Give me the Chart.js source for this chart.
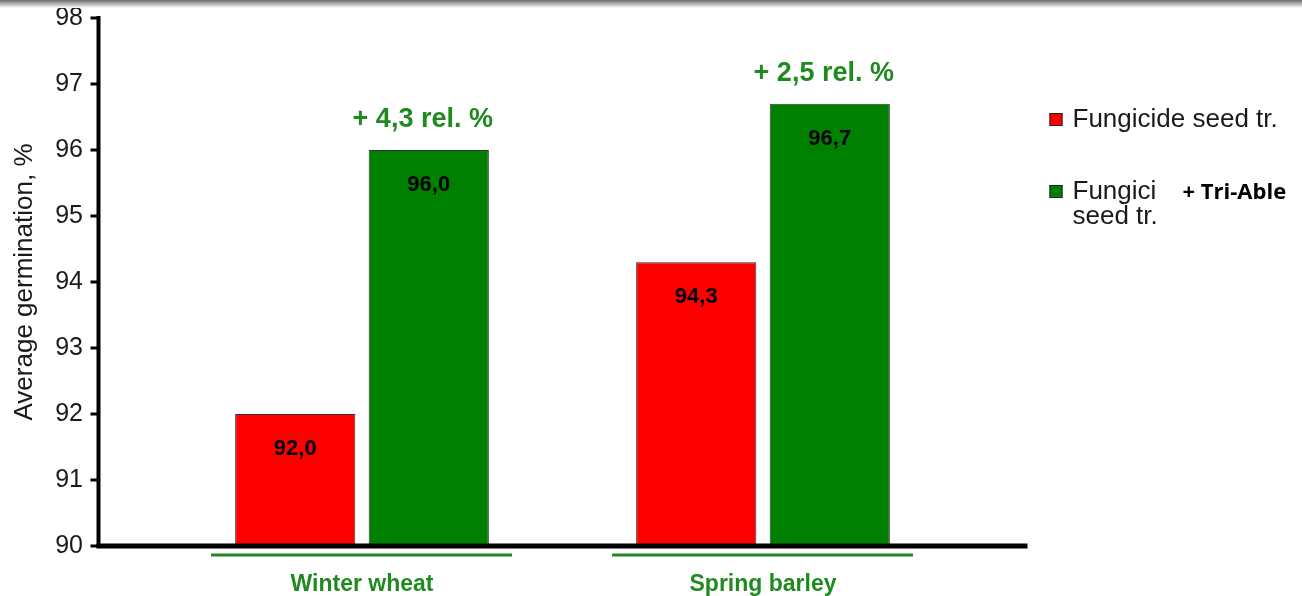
<!DOCTYPE html>
<html>
<head>
<meta charset="utf-8">
<script src="https://cdn.jsdelivr.net/npm/chart.js@4/dist/chart.umd.min.js"></script>
<style>
  html, body { margin: 0; padding: 0; background: #fff; }
  #wrap { position: relative; width: 1302px; height: 596px; }
  #shade { position: absolute; left: 0; top: 0; width: 1302px; height: 8px;
           background: linear-gradient(#6a6a6a, #ffffff); }
</style>
</head>
<body>
<div id="wrap">
  <canvas id="c" width="1302" height="596"></canvas>
  <div id="shade"></div>
</div>
<script>
// --- Data ---
const crops = ['Winter wheat', 'Spring barley'];
const fungicide = [92.0, 94.3];
const fungicide_triable = [96.0, 96.7];
const gain_labels = ['+ 4,3 rel. %', '+ 2,5 rel. %'];
const legend_lines = [['Fungicide seed tr.'], ['Fungici', 'seed tr.']];
const legend_note = '+ Tri-Able';
const y_min = 90, y_max = 98;

const FONT = '"Liberation Sans", Arial, sans-serif';
const RED = '#ff0000', GREEN = '#008000', TEXT_GREEN = '#1f8a1f', INK = '#1a1a1a';

// --- Custom drawing: axes, labels, legend ---
const decor = {
  id: 'decor',
  afterDatasetsDraw(chart) {
    const { ctx, chartArea: a, scales: { x, y } } = chart;
    const axisX = a.left - 63;
    ctx.save();
    // y axis line + ticks
    ctx.strokeStyle = '#000';
    ctx.lineWidth = 4;
    ctx.beginPath();
    ctx.moveTo(axisX, y.getPixelForValue(y_max) - 2);
    ctx.lineTo(axisX, a.bottom + 2);
    ctx.stroke();
    ctx.lineWidth = 3;
    for (let v = y_min; v <= y_max; v++) {
      const py = y.getPixelForValue(v);
      ctx.beginPath();
      ctx.moveTo(axisX - 8, py);
      ctx.lineTo(axisX, py);
      ctx.stroke();
    }
    // x axis line
    ctx.lineWidth = 5;
    ctx.beginPath();
    ctx.moveTo(axisX - 2, a.bottom);
    ctx.lineTo(a.right + 64, a.bottom);
    ctx.stroke();
    // green underlines under categories
    ctx.strokeStyle = TEXT_GREEN;
    ctx.lineWidth = 3;
    crops.forEach((c, i) => {
      const cx = x.getPixelForValue(i);
      ctx.beginPath();
      ctx.moveTo(cx - 151, a.bottom + 9);
      ctx.lineTo(cx + 150, a.bottom + 9);
      ctx.stroke();
    });
    // value labels inside bars
    ctx.fillStyle = '#000';
    ctx.font = 'bold 22px ' + FONT;
    ctx.textAlign = 'center';
    ctx.textBaseline = 'middle';
    chart.data.datasets.forEach((ds, di) => {
      chart.getDatasetMeta(di).data.forEach((bar, i) => {
        ctx.fillText(ds.data[i].toFixed(1).replace('.', ','), bar.x, bar.y + 35);
      });
    });
    // relative gain above green bars
    ctx.fillStyle = TEXT_GREEN;
    ctx.font = 'bold 27px ' + FONT;
    chart.getDatasetMeta(1).data.forEach((bar, i) => {
      ctx.fillText(gain_labels[i], bar.x - 6, bar.y - 30);
    });
    // legend
    const lx = a.right + 86;
    const rows = [120, 192];
    ctx.textAlign = 'left';
    ctx.font = '26px ' + FONT;
    chart.data.datasets.forEach((ds, di) => {
      const ty = rows[di];
      ctx.fillStyle = ds.backgroundColor;
      ctx.fillRect(lx, ty - 7, 13, 13);
      ctx.strokeStyle = '#222';
      ctx.lineWidth = 1;
      ctx.strokeRect(lx + 0.5, ty - 6.5, 12, 12);
      ctx.fillStyle = INK;
      legend_lines[di].forEach((t, li) => ctx.fillText(t, lx + 23, ty + li * 25));
    });
    ctx.fillStyle = '#000';
    ctx.font = 'bold 22px "Open Sans", ' + FONT;
    ctx.fillText(legend_note, lx + 133, rows[1] + 1);
    ctx.restore();
  }
};

new Chart(document.getElementById('c'), {
  type: 'bar',
  data: {
    labels: crops,
    datasets: [
      { label: 'Fungicide seed tr.', data: fungicide, backgroundColor: RED,
        borderColor: '#333', borderWidth: 1 },
      { label: 'Fungicide seed tr. + Tri-Able', data: fungicide_triable, backgroundColor: GREEN,
        borderColor: '#333', borderWidth: 1 }
    ]
  },
  options: {
    responsive: false,
    animation: false,
    categoryPercentage: 0.666,
    barPercentage: 0.9,
    layout: { padding: { left: 0, top: 18, right: 338.5, bottom: 0 } },
    plugins: { legend: { display: false }, tooltip: { enabled: false } },
    scales: {
      x: {
        grid: { display: false, drawTicks: false },
        border: { display: false },
        afterFit(s) { s.height = 50; },
        ticks: { color: TEXT_GREEN, padding: 25, font: { family: FONT, size: 23, weight: 'bold' } }
      },
      y: {
        min: y_min, max: y_max,
        grid: { display: false, drawTicks: false },
        border: { display: false },
        afterFit(s) { s.width = 161.5; s.paddingTop = 10; s.paddingBottom = 10; },
        ticks: { stepSize: 1, color: INK, padding: 78.5, font: { family: FONT, size: 25 } },
        title: { display: true, text: 'Average germination, %', color: INK,
                 padding: { top: 9, bottom: 0 }, font: { family: FONT, size: 26 } }
      }
    }
  },
  plugins: [decor]
});
</script>
</body>
</html>
